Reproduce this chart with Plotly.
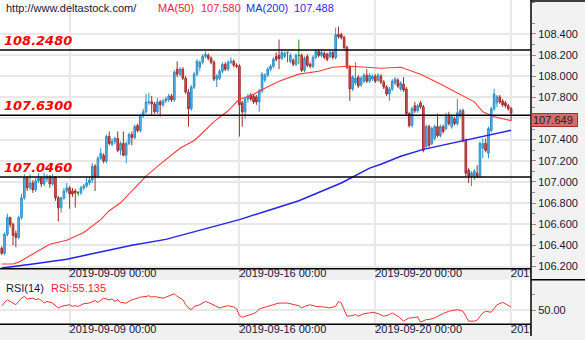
import plotly.graph_objects as go

# ---------------- data: USD/JPY, 2-hour candles ----------------
open_ = [
    106.373, 106.326, 106.504, 106.663, 106.598, 106.513, 106.476, 106.663, 106.850, 107.037,
    106.944, 106.990, 106.925, 107.009, 107.037, 106.981, 107.028, 107.046, 106.981, 107.046,
    106.850, 106.757, 106.850, 106.915, 106.944, 106.915, 106.915, 106.897, 106.897, 106.944,
    106.962, 106.990, 107.018, 107.149, 107.056, 107.224, 107.252, 107.196, 107.430, 107.355,
    107.383, 107.411, 107.299, 107.364, 107.252, 107.364, 107.448, 107.420, 107.533, 107.486,
    107.626, 107.663, 107.748, 107.757, 107.738, 107.663, 107.757, 107.729, 107.766, 107.776,
    107.813, 107.776, 108.066, 108.019, 108.066, 107.981, 107.850, 107.692, 107.897, 108.019,
    108.084, 108.131, 108.187, 108.196, 108.168, 108.131, 107.972, 107.981, 108.047, 108.112,
    108.066, 108.131, 108.140, 108.103, 108.094, 107.748, 107.663, 107.785, 107.822, 107.813,
    107.804, 107.757, 107.860, 107.963, 108.009, 108.066, 108.094, 108.187, 108.196, 108.168,
    108.187, 108.224, 108.140, 108.150, 108.112, 108.196, 108.196, 108.056, 108.187, 108.112,
    108.094, 108.178, 108.234, 108.196, 108.215, 108.206, 108.187, 108.224, 108.178, 108.393,
    108.393, 108.365, 108.271, 108.084, 107.879, 107.935, 107.991, 107.916, 107.953, 108.009,
    107.953, 107.972, 108.000, 107.963, 108.000, 107.944, 107.897, 107.832, 107.879, 107.935,
    107.963, 107.879, 107.925, 107.879, 107.645, 107.533, 107.720, 107.673, 107.748, 107.710,
    107.336, 107.523, 107.364, 107.411, 107.523, 107.439, 107.523, 107.505, 107.626, 107.523,
    107.598, 107.551, 107.626, 107.673, 107.392, 107.112, 107.056, 107.056, 107.084, 107.056,
    107.318, 107.364, 107.271, 107.486, 107.692, 107.748, 107.804, 107.766, 107.748, 107.720,
    107.692,
]
high = [
    106.392, 106.523, 106.700, 106.672, 106.617, 106.541, 106.682, 106.887, 107.074, 107.056,
    107.074, 107.018, 107.037, 107.084, 107.056, 107.084, 107.074, 107.065, 107.074, 107.056,
    106.869, 106.859, 106.944, 106.990, 106.962, 106.944, 106.934, 106.915, 106.962, 106.981,
    107.037, 107.046, 107.177, 107.168, 107.243, 107.318, 107.271, 107.448, 107.477, 107.411,
    107.430, 107.477, 107.383, 107.477, 107.383, 107.467, 107.477, 107.542, 107.551, 107.645,
    107.692, 107.832, 107.841, 107.813, 107.757, 107.794, 107.776, 107.785, 107.804, 107.832,
    107.832, 108.056, 108.140, 108.084, 108.084, 108.000, 107.879, 107.916, 108.038, 108.159,
    108.150, 108.206, 108.234, 108.215, 108.187, 108.150, 108.019, 108.066, 108.131, 108.131,
    108.150, 108.178, 108.159, 108.122, 108.112, 107.766, 107.804, 107.832, 107.841, 107.832,
    107.822, 107.879, 108.038, 108.028, 108.084, 108.112, 108.178, 108.224, 108.346, 108.243,
    108.234, 108.234, 108.215, 108.168, 108.215, 108.346, 108.215, 108.187, 108.206, 108.131,
    108.196, 108.253, 108.253, 108.243, 108.234, 108.224, 108.243, 108.243, 108.458, 108.468,
    108.411, 108.383, 108.290, 108.103, 108.009, 108.131, 108.009, 108.000, 108.028, 108.066,
    108.028, 108.019, 108.019, 108.028, 108.019, 107.963, 107.916, 107.897, 107.972, 107.991,
    107.981, 107.953, 107.991, 107.897, 107.663, 107.710, 107.757, 107.738, 107.766, 107.729,
    107.542, 107.542, 107.523, 107.542, 107.645, 107.542, 107.542, 107.654, 107.663, 107.635,
    107.617, 107.785, 107.692, 107.692, 107.411, 107.131, 107.102, 107.121, 107.159, 107.383,
    107.411, 107.411, 107.523, 107.710, 107.879, 107.822, 107.822, 107.785, 107.766, 107.738,
    107.710,
]
low = [
    106.308, 106.308, 106.485, 106.570, 106.401, 106.383, 106.457, 106.644, 106.831, 106.915,
    106.925, 106.897, 106.906, 106.990, 106.953, 106.962, 106.999, 106.944, 106.962, 106.822,
    106.626, 106.710, 106.831, 106.897, 106.747, 106.859, 106.757, 106.869, 106.878, 106.925,
    106.944, 106.971, 106.990, 106.915, 107.037, 107.205, 107.177, 107.177, 107.346, 107.336,
    107.355, 107.280, 107.252, 107.243, 107.177, 107.346, 107.346, 107.402, 107.467, 107.467,
    107.607, 107.645, 107.729, 107.626, 107.645, 107.645, 107.617, 107.710, 107.748, 107.757,
    107.757, 107.757, 107.991, 108.000, 107.963, 107.832, 107.523, 107.673, 107.879, 108.000,
    108.047, 108.112, 108.168, 108.150, 108.112, 107.953, 107.897, 107.963, 108.028, 108.047,
    108.047, 108.112, 108.084, 108.075, 107.430, 107.523, 107.598, 107.748, 107.766, 107.738,
    107.729, 107.663, 107.841, 107.944, 107.991, 108.047, 108.075, 108.140, 108.066, 108.150,
    108.168, 108.131, 108.122, 108.094, 108.094, 108.112, 108.038, 108.038, 108.084, 108.075,
    108.075, 108.159, 108.178, 108.178, 108.159, 108.140, 108.168, 108.159, 108.159, 108.355,
    108.346, 108.253, 108.066, 107.766, 107.860, 107.916, 107.888, 107.897, 107.935, 107.935,
    107.935, 107.953, 107.935, 107.944, 107.925, 107.879, 107.813, 107.766, 107.860, 107.916,
    107.888, 107.860, 107.850, 107.626, 107.514, 107.514, 107.654, 107.654, 107.692, 107.280,
    107.318, 107.327, 107.346, 107.392, 107.420, 107.420, 107.458, 107.486, 107.533, 107.505,
    107.533, 107.533, 107.607, 107.374, 107.056, 106.990, 106.962, 107.018, 107.037, 107.037,
    107.224, 107.280, 107.224, 107.467, 107.673, 107.710, 107.738, 107.710, 107.701, 107.673,
    107.579,
]
close = [
    106.326, 106.504, 106.663, 106.598, 106.495, 106.476, 106.663, 106.850, 107.037, 106.944,
    106.990, 106.925, 107.009, 107.037, 106.981, 107.037, 107.046, 106.981, 107.046, 106.850,
    106.757, 106.850, 106.915, 106.944, 106.887, 106.887, 106.897, 106.897, 106.944, 106.962,
    106.990, 107.018, 107.149, 107.056, 107.224, 107.271, 107.196, 107.430, 107.364, 107.383,
    107.411, 107.299, 107.364, 107.252, 107.364, 107.448, 107.420, 107.523, 107.486, 107.626,
    107.663, 107.757, 107.757, 107.738, 107.663, 107.757, 107.729, 107.766, 107.785, 107.813,
    107.776, 108.038, 108.019, 108.066, 107.981, 107.850, 107.692, 107.897, 108.019, 108.140,
    108.131, 108.187, 108.206, 108.168, 108.131, 107.972, 108.000, 108.047, 108.112, 108.066,
    108.131, 108.140, 108.103, 108.094, 107.729, 107.663, 107.785, 107.813, 107.785, 107.757,
    107.757, 107.860, 108.019, 108.009, 108.066, 108.094, 108.159, 108.159, 108.168, 108.224,
    108.215, 108.224, 108.196, 108.112, 108.196, 108.196, 108.056, 108.168, 108.103, 108.094,
    108.178, 108.234, 108.196, 108.224, 108.178, 108.159, 108.224, 108.178, 108.393, 108.374,
    108.365, 108.271, 108.084, 107.879, 107.991, 107.981, 107.907, 107.981, 108.009, 107.953,
    108.009, 108.000, 107.953, 108.009, 107.944, 107.897, 107.832, 107.879, 107.953, 107.972,
    107.907, 107.935, 107.869, 107.645, 107.533, 107.692, 107.673, 107.720, 107.710, 107.299,
    107.523, 107.346, 107.505, 107.523, 107.439, 107.523, 107.477, 107.617, 107.551, 107.617,
    107.551, 107.654, 107.673, 107.392, 107.084, 107.056, 107.084, 107.102, 107.056, 107.364,
    107.364, 107.299, 107.505, 107.692, 107.832, 107.804, 107.757, 107.729, 107.720, 107.692,
    107.649,
]

# moving averages (candle index, value)
ma50_idx = [0, 4, 6, 11, 17, 23, 29, 35, 38, 42, 46, 51, 56, 63, 68, 70, 75, 80, 84, 88,
            91, 98, 105, 112, 117, 122, 129, 134, 141, 148, 155, 163, 167, 170, 174, 177, 180]
ma50_val = [106.224, 106.224, 106.242, 106.317, 106.411, 106.448, 106.523, 106.644, 106.728, 106.803,
            106.915, 107.056, 107.168, 107.318, 107.392, 107.439, 107.570, 107.673, 107.785, 107.813,
            107.860, 107.953, 108.019, 108.047, 108.084, 108.094, 108.084, 108.075, 108.084, 108.019,
            107.925, 107.813, 107.757, 107.663, 107.617, 107.598, 107.580]
ma200_idx = [0, 6, 11, 23, 35, 46, 58, 70, 84, 95, 105, 120, 130, 134, 141, 149, 163, 180]
ma200_val = [106.186, 106.205, 106.224, 106.270, 106.336, 106.401, 106.457, 106.541, 106.644, 106.738,
             106.822, 106.990, 107.131, 107.168, 107.243, 107.308, 107.392, 107.488]

# RSI(14)
rsi_idx = [0, 1, 2, 4, 5, 6, 7, 8, 9, 11,
           12, 13, 14, 15, 16, 18, 19, 20, 21, 22,
           24, 25, 26, 27, 28, 29, 31, 32, 33, 34,
           35, 36, 38, 39, 40, 41, 42, 44, 45, 46,
           47, 48, 49, 51, 52, 53, 54, 55, 57, 58,
           59, 60, 61, 62, 64, 65, 66, 67, 68, 70,
           71, 72, 73, 74, 75, 77, 78, 79, 80, 81,
           82, 83, 84, 85, 87, 88, 89, 90, 91, 92,
           94, 95, 96, 97, 98, 101, 103, 105, 106, 107,
           109, 111, 114, 116, 118, 119, 120, 121, 122, 124,
           125, 126, 128, 130, 131, 133, 135, 137, 138, 140,
           142, 144, 145, 147, 148, 150, 151, 153, 154, 156,
           158, 160, 161, 163, 165, 167, 168, 170, 171, 173,
           175, 177, 178, 180]
rsi_val = [57.5, 61.8, 67.2, 61.8, 59.1, 64.5, 69.9, 72.6, 68.3, 69.9,
           67.2, 68.8, 66.1, 61.8, 64.5, 61.8, 57.5, 53.8, 56.4, 57.5,
           59.1, 56.4, 57.5, 56.4, 59.1, 60.8, 61.8, 64.5, 66.1, 62.9,
           67.2, 69.9, 67.2, 68.3, 64.5, 67.2, 62.9, 61.8, 64.5, 67.2,
           68.3, 69.9, 71.5, 72.6, 73.7, 71.5, 72.6, 71.5, 69.9, 71.5,
           73.7, 75.3, 76.9, 72.6, 67.2, 59.1, 53.8, 51.1, 56.4, 59.1,
           61.8, 64.5, 62.9, 60.8, 59.1, 53.8, 55.4, 56.4, 57.5, 56.4,
           55.4, 52.1, 41.4, 38.7, 41.4, 43.0, 44.6, 46.8, 52.1, 53.8,
           56.4, 57.5, 59.1, 60.8, 61.8, 61.8, 59.1, 57.5, 53.8, 56.4,
           59.1, 56.4, 55.4, 53.8, 56.4, 64.5, 61.8, 51.1, 40.3, 41.4,
           43.0, 40.3, 44.6, 45.7, 46.8, 44.6, 40.3, 43.0, 45.7, 40.3,
           32.3, 37.6, 37.6, 39.2, 30.6, 34.9, 34.9, 37.6, 40.3, 44.6,
           48.4, 50.0, 51.1, 48.4, 32.3, 32.3, 33.9, 45.7, 48.4, 46.8,
           59.1, 62.9, 60.8, 55.135]

# horizontal support / resistance levels
levels = [108.248, 107.630, 107.046]

# time axis labels (candle index of each label)
date_idx = [24, 84, 132, 180]
date_labels = ["2019-09-09 00:00", "2019-09-16 00:00", "2019-09-20 00:00", "2019-09-26 00:00"]

price_ticks = [106.2, 106.4, 106.6, 106.8, 107.0, 107.2, 107.4, 107.6, 107.8, 108.0, 108.2, 108.4]
price_minor = [106.3, 106.5, 106.7, 106.9, 107.1, 107.3, 107.5, 107.7, 107.9, 108.1, 108.3, 108.5, 108.7]
rsi_ticks = [50]
rsi_minor = [75]

# ---------------- geometry ----------------
W, H = 585, 340
PLOT_RIGHT = 531          # px where the right-hand scale panel starts
FIRST_PX, STEP_PX = 1.7, 2.83


def yf(px):
    return 1 - px / H


xr = PLOT_RIGHT / W
x_range = [(0 - FIRST_PX) / STEP_PX, (PLOT_RIGHT - FIRST_PX) / STEP_PX]
main_dom = [yf(272), 1.0]
band1_dom = [yf(283), yf(272)]
rsi_dom = [yf(328), yf(283)]
band2_dom = [0.0, yf(328)]
price_range = [106.179, 108.72]
rsi_range = [27.4, 100]

FONT = "Liberation Sans, Arial, sans-serif"
TXT = "#16163C"
RED = "#F0203C"
BLUE = "#2B2BF0"
GRID = "#E8E8E8"

# ---------------- traces ----------------
n = len(close)
ix = list(range(n))
ups = [i for i in ix if close[i] > open_[i]]
downs = [i for i in ix if close[i] < open_[i]]
flats = [i for i in ix if close[i] == open_[i]]


def pick(seq, ids):
    return [seq[i] for i in ids]


fig = go.Figure()
for ids, edge, fill in [(ups, "#2A90CC", "#5FB4E4"),
                        (downs, "#A32B2B", "#D06060"),
                        (flats, "#1E8B1E", "#1E8B1E")]:
    side = dict(line=dict(color=edge, width=1), fillcolor=fill)
    fig.add_trace(go.Candlestick(
        x=ids, open=pick(open_, ids), high=pick(high, ids),
        low=pick(low, ids), close=pick(close, ids),
        increasing=side, decreasing=side, whiskerwidth=0,
        xaxis="x", yaxis="y", hoverinfo="skip"))

fig.add_trace(go.Scatter(x=ma200_idx, y=ma200_val, mode="lines",
                         line=dict(color="#2323E8", width=1.5), xaxis="x", yaxis="y"))
fig.add_trace(go.Scatter(x=ma50_idx, y=ma50_val, mode="lines",
                         line=dict(color="#FF3A3A", width=1.1), xaxis="x", yaxis="y"))

fig.add_trace(go.Scatter(x=rsi_idx, y=rsi_val, mode="lines",
                         line=dict(color="#F23030", width=1), xaxis="x2", yaxis="y2"))

for xa, ya in [("x3", "y3"), ("x4", "y4")]:
    fig.add_trace(go.Scatter(x=date_idx, y=[0.5] * len(date_idx), mode="text",
                             text=date_labels, textposition="middle right",
                             textfont=dict(family=FONT, size=11, color=TXT),
                             cliponaxis=True, xaxis=xa, yaxis=ya))

# ---------------- axes ----------------
xbase = dict(range=x_range, showticklabels=False, zeroline=False, showline=False,
             tickmode="array", tickvals=date_idx, ticks="", fixedrange=True)
ytick = dict(ticks="outside", ticklen=4, tickcolor="#8C8C8C",
             tickfont=dict(family=FONT, size=11, color=TXT),
             zeroline=False, showline=False, side="right", fixedrange=True)

fig.update_layout(
    width=W, height=H, margin=dict(l=0, r=0, t=0, b=0),
    paper_bgcolor="#F2F2F2", plot_bgcolor="white",
    showlegend=False, hovermode=False, boxgap=0.18,
    xaxis=dict(domain=[0, xr], anchor="y", showgrid=True, gridcolor=GRID, gridwidth=1.5,
               rangeslider=dict(visible=False), **xbase),
    yaxis=dict(domain=main_dom, anchor="x", range=price_range, tickmode="array",
               tickvals=price_ticks, ticktext=[f"{v:.3f}" for v in price_ticks],
               showgrid=True, gridcolor=GRID, gridwidth=1.5,
               minor=dict(tickmode="array", tickvals=price_minor, ticks="outside",
                          ticklen=3, tickcolor="#8C8C8C", showgrid=False),
               **ytick),
    xaxis2=dict(domain=[0, xr], anchor="y2", matches="x", showgrid=True,
                gridcolor=GRID, gridwidth=1.5, **xbase),
    yaxis2=dict(domain=rsi_dom, anchor="x2", range=rsi_range, tickmode="array",
                tickvals=rsi_ticks, ticktext=[f"{v:.2f}" for v in rsi_ticks],
                showgrid=True, gridcolor=GRID, gridwidth=1.5,
                minor=dict(tickmode="array", tickvals=rsi_minor, ticks="outside",
                           ticklen=3, tickcolor="#8C8C8C", showgrid=False),
                **ytick),
    xaxis3=dict(domain=[0, xr], anchor="y3", matches="x", showgrid=True,
                gridcolor="#B0B0B0", griddash="dot", gridwidth=1, **xbase),
    yaxis3=dict(domain=band1_dom, anchor="x3", range=[0, 1], visible=False, fixedrange=True),
    xaxis4=dict(domain=[0, xr], anchor="y4", matches="x", showgrid=True,
                gridcolor="#B0B0B0", griddash="dot", gridwidth=1, **xbase),
    yaxis4=dict(domain=band2_dom, anchor="x4", range=[0, 1], visible=False, fixedrange=True),
)

# ---------------- shapes ----------------
shapes = []
for dom in (band1_dom, band2_dom):
    shapes.append(dict(type="rect", xref="paper", yref="paper", x0=0, x1=xr,
                       y0=dom[0], y1=dom[1], fillcolor="#F0F0F0",
                       line=dict(width=0), layer="below"))
for v in levels:
    shapes.append(dict(type="line", xref="x domain", yref="y", x0=0, x1=1, y0=v, y1=v,
                       line=dict(color="black", width=1.5), layer="above"))
border = dict(color="black", width=1.5)
shapes += [
    dict(type="line", xref="paper", yref="paper", x0=xr, x1=xr, y0=0, y1=1, line=border),
    dict(type="line", xref="paper", yref="paper", x0=0, x1=xr, y0=main_dom[0], y1=main_dom[0], line=border),
    dict(type="line", xref="paper", yref="paper", x0=0, x1=xr, y0=rsi_dom[0], y1=rsi_dom[0], line=border),
    dict(type="line", xref="paper", yref="paper", x0=xr, x1=1, y0=band1_dom[0], y1=band1_dom[0], line=border),
    dict(type="line", xref="paper", yref="paper", x0=xr, x1=1, y0=yf(1), y1=yf(1), line=border),
]
fig.update_layout(shapes=shapes)

# ---------------- annotations ----------------
ann = []


def label(text, px_x, px_y, color, size=11):
    ann.append(dict(text=text, xref="paper", yref="paper", x=px_x / W, y=yf(px_y),
                    xanchor="left", yanchor="middle", showarrow=False,
                    font=dict(family=FONT, size=size, color=color)))


label("http://www.deltastock.com/", 4, 8.5, TXT)
label("MA(50)", 156, 8.5, RED)
label(f"{ma50_val[-1]:.3f}", 199, 8.5, RED)
label("MA(200)", 244, 8.5, BLUE)
label(f"{ma200_val[-1]:.3f}", 292, 8.5, BLUE)
label("RSI(14)", 4, 291, TXT)
label(f"RSI:{rsi_val[-1]:.3f}", 49, 291, RED)

for v in levels:
    ann.append(dict(text=f"<b><i>{v:.4f}</i></b>", xref="paper", yref="y", x=2 / W, y=v,
                    xanchor="left", yanchor="bottom", yshift=0, showarrow=False,
                    font=dict(family="DejaVu Sans", size=13, color="#FF0000")))

ann.append(dict(text=f"{close[-1]:.3f}", xref="paper", yref="y", x=xr, y=close[-1],
                xanchor="left", yanchor="top", showarrow=False, align="left",
                width=43, height=10, borderpad=1, borderwidth=1,
                bgcolor="#D46C6C", bordercolor="#A43030",
                font=dict(family=FONT, size=11, color="#222222")))
fig.update_layout(annotations=ann)

fig.write_html("out.html")
